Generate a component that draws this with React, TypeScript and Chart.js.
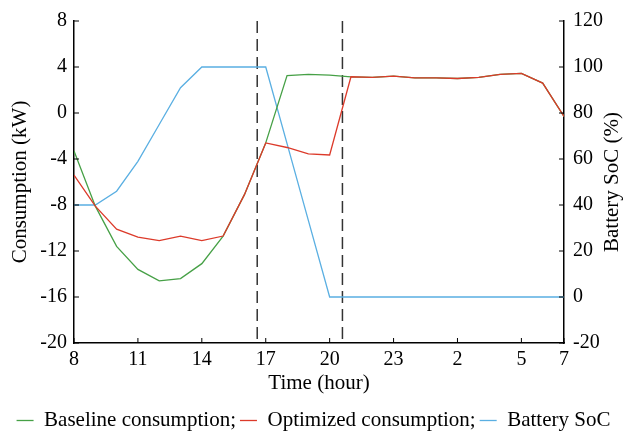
import React, { useEffect, useRef } from "react";
import { Chart, registerables } from "chart.js";

Chart.register(...registerables);

// Clock hour of each hourly sample (8:00 today to 7:00 next day)
const HOURS = [8, 9, 10, 11, 12, 13, 14, 15, 16, 17, 18, 19, 20, 21, 22, 23, 0, 1, 2, 3, 4, 5, 6, 7];
// Sample indices that carry a tick label
const X_TICK_INDEX = [0, 3, 6, 9, 12, 15, 18, 21, 23];

const BASELINE = [-3.3, -8.1, -11.6, -13.6, -14.6, -14.4, -13.1, -10.7, -7.1, -2.6, 3.25, 3.35, 3.3, 3.15, 3.1, 3.2, 3.05, 3.05, 3.0, 3.1, 3.35, 3.45, 2.6, -0.3];
const OPTIMIZED = [-5.4, -8.1, -10.1, -10.8, -11.1, -10.7, -11.1, -10.7, -7.1, -2.6, -3.0, -3.55, -3.65, 3.15, 3.1, 3.2, 3.05, 3.05, 3.0, 3.1, 3.35, 3.45, 2.6, -0.3];
const SOC = [40, 40, 46, 59, 75, 91, 100, 100, 100, 100, 66.7, 33.3, 0, 0, 0, 0, 0, 0, 0, 0, 0, 0, 0, 0];

// Event window boundaries (in hours after 8:00)
const EVENT_MARKERS = [8.6, 12.6];

const LEFT_MIN = -20, LEFT_MAX = 8, LEFT_STEP = 4;
const RIGHT_MIN = -20, RIGHT_MAX = 120, RIGHT_STEP = 20;

const FONT = "'Liberation Serif', 'Times New Roman', serif";
const GREEN = "#46a046";
const RED = "#dc3a2a";
const BLUE = "#5aafe2";

const toPoints = (arr: number[]) => arr.map((y, i) => ({ x: i, y }));

const decor = {
  id: "decor",
  afterLayout(chart: any) {
    const lg = chart.legend;
    if (lg) {
      lg.top += 8;
      lg.bottom += 8;
    }
  },
  beforeDatasetsDraw(chart: any) {
    const { ctx, chartArea, scales } = chart;
    ctx.save();
    ctx.strokeStyle = "#333";
    ctx.lineWidth = 1.5;
    ctx.setLineDash([12, 6]);
    EVENT_MARKERS.forEach((v) => {
      const x = scales.x.getPixelForValue(v);
      ctx.beginPath();
      ctx.moveTo(x, chartArea.top);
      ctx.lineTo(x, chartArea.bottom);
      ctx.stroke();
    });
    ctx.restore();
  },
  afterDraw(chart: any) {
    const { ctx, chartArea, scales } = chart;
    ctx.save();
    ctx.strokeStyle = "#000";
    ctx.lineWidth = 1;
    const len = 5;
    scales.x.ticks.forEach((t: any) => {
      const x = scales.x.getPixelForValue(t.value);
      ctx.beginPath();
      ctx.moveTo(x, chartArea.bottom);
      ctx.lineTo(x, chartArea.bottom - len);
      ctx.stroke();
    });
    scales.y.ticks.forEach((t: any) => {
      const y = scales.y.getPixelForValue(t.value);
      ctx.beginPath();
      ctx.moveTo(chartArea.left, y);
      ctx.lineTo(chartArea.left + len, y);
      ctx.stroke();
    });
    scales.y1.ticks.forEach((t: any) => {
      const y = scales.y1.getPixelForValue(t.value);
      ctx.beginPath();
      ctx.moveTo(chartArea.right, y);
      ctx.lineTo(chartArea.right - len, y);
      ctx.stroke();
    });
    // titles
    ctx.fillStyle = "#000";
    ctx.font = `21px ${FONT}`;
    ctx.textAlign = "center";
    ctx.textBaseline = "middle";
    const cy = (chartArea.top + chartArea.bottom) / 2;
    const cx = (chartArea.left + chartArea.right) / 2;
    ctx.save();
    ctx.translate(20, cy);
    ctx.rotate(-Math.PI / 2);
    ctx.fillText("Consumption (kW)", 0, 0);
    ctx.restore();
    ctx.save();
    ctx.translate(612, cy);
    ctx.rotate(-Math.PI / 2);
    ctx.fillText("Battery SoC (%)", 0, 0);
    ctx.restore();
    ctx.fillText("Time (hour)", cx, 383);
    ctx.restore();
  },
};

export default function App() {
  const ref = useRef<HTMLCanvasElement>(null);
  useEffect(() => {
    document.body.style.margin = "0";
    const chart = new Chart(ref.current!, {
      type: "line",
      data: {
        datasets: [
          { label: "Baseline consumption;", data: toPoints(BASELINE), borderColor: GREEN, backgroundColor: GREEN, borderWidth: 1.3, pointRadius: 0, yAxisID: "y", order: 1 },
          { label: "Optimized consumption;", data: toPoints(OPTIMIZED), borderColor: RED, backgroundColor: RED, borderWidth: 1.3, pointRadius: 0, yAxisID: "y", order: 0 },
          { label: "Battery SoC", data: toPoints(SOC), borderColor: BLUE, backgroundColor: BLUE, borderWidth: 1.3, pointRadius: 0, yAxisID: "y1", order: 2 },
        ],
      },
      options: {
        animation: false,
        responsive: true,
        maintainAspectRatio: false,
        layout: { padding: { top: 19, bottom: 0, left: 0, right: 0 } },
        plugins: {
          tooltip: { enabled: false },
          legend: {
            position: "bottom",
            labels: {
              usePointStyle: true,
              pointStyle: "line",
              pointStyleWidth: 17,
              boxWidth: 17,
              padding: 4,
              color: "#000",
              font: { size: 21, family: FONT },
              sort: (a: any, b: any) => a.datasetIndex - b.datasetIndex,
            },
          },
        },
        scales: {
          x: {
            type: "linear",
            min: 0,
            max: HOURS.length - 1,
            grid: { display: false, drawTicks: false },
            border: { display: true, color: "#000", width: 1.5 },
            afterBuildTicks: (s: any) => {
              s.ticks = X_TICK_INDEX.map((v) => ({ value: v }));
            },
            afterFit: (s: any) => {
              s.height = 55;
            },
            ticks: {
              autoSkip: false,
              maxRotation: 0,
              padding: 5,
              color: "#000",
              font: { size: 20, family: FONT },
              callback: (v: any) => String(HOURS[Math.round(Number(v))]),
            },
          },
          y: {
            position: "left",
            min: LEFT_MIN,
            max: LEFT_MAX,
            grid: { display: false, drawTicks: false },
            border: { display: true, color: "#000", width: 1.5 },
            afterFit: (s: any) => {
              s.width = 74;
            },
            ticks: { stepSize: LEFT_STEP, padding: 7, color: "#000", font: { size: 20, family: FONT } },
          },
          y1: {
            position: "right",
            min: RIGHT_MIN,
            max: RIGHT_MAX,
            grid: { display: false, drawTicks: false },
            border: { display: true, color: "#000", width: 1.5 },
            afterFit: (s: any) => {
              s.width = 63;
            },
            ticks: { stepSize: RIGHT_STEP, padding: 9, color: "#000", font: { size: 20, family: FONT } },
          },
        },
      },
      plugins: [decor],
    });
    return () => chart.destroy();
  }, []);
  return (
    <div style={{ width: 627, height: 433, position: "relative" }}>
      <canvas ref={ref} />
    </div>
  );
}
